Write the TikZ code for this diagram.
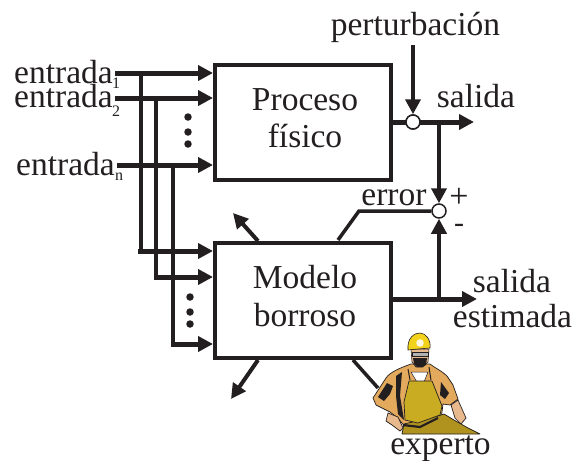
\documentclass[tikz,border=0pt]{standalone}
\usepackage{fontspec}
\setmainfont{Liberation Serif}
\usetikzlibrary{arrows.meta}
\definecolor{ink}{HTML}{231F20}
\definecolor{helmet}{HTML}{F2D21B}
\definecolor{shirt}{HTML}{E3A95C}
\definecolor{overall}{HTML}{C9AC22}
\definecolor{overalldark}{HTML}{B0921E}
\definecolor{skin}{HTML}{E8B98C}
\tikzset{
  x=1pt, y=-1pt,
  txt/.style={font=\fontsize{33.5}{35}\selectfont, text=ink, inner sep=0pt, anchor=base},
  sub/.style={font=\fontsize{16}{17}\selectfont, text=ink, inner sep=0pt, anchor=base west},
  block/.style={draw=ink, line width=4pt, fill=white, minimum width=176pt, minimum height=115pt, inner sep=0pt},
  junction/.style={circle, draw=ink, line width=1.5pt, fill=white, minimum size=14pt, inner sep=0pt},
  heavy/.style={draw=ink, line width=5pt, -{Triangle[length=15pt,width=15pt]}},
  bus/.style={draw=ink, line width=3.8pt},
  thin arrow/.style={draw=ink, line width=4pt, -{Triangle[length=15pt,width=15pt]}},
  dotmark/.style={circle, fill=ink, minimum size=7.5pt, inner sep=0pt}
}
\begin{document}
\begin{tikzpicture}
\useasboundingbox (0,0) rectangle (574,461);

% blocks
\node[block] (proc) at (303,122) {};
\node[block] (fuzzy) at (303,300) {};
\node[txt] (proctxt) at (305,110) {Proceso};
\node[txt] (proctxb) at (305,147) {físico};
\node[txt] (fuztxt) at (305,288) {Modelo};
\node[txt] (fuztxb) at (305,326) {borroso};

% junctions
\node[junction] (mix) at (413,122) {};
\node[junction] (sum) at (439,211) {};

% input labels and lines
\node[txt] (in1) at (63.5,83) {entrada};
\node[sub] (in1s) at (112,88) {1};
\node[txt] (in2) at (63.5,107) {entrada};
\node[sub] (in2s) at (112,116) {2};
\node[txt] (inn) at (65.5,175) {entrada};
\node[sub] (inns) at (115,180) {n};

\coordinate (a1) at (115,73);
\coordinate (a2) at (115,98);
\coordinate (an) at (117,165);
\coordinate (p1) at (213,73);
\coordinate (p2) at (213,98);
\coordinate (pn) at (213,165);
\coordinate (t1) at (141,73);
\coordinate (t2) at (156,98);
\coordinate (tn) at (173,165);
\coordinate (b1) at (141,251);
\coordinate (b2) at (156,277);
\coordinate (bn) at (173,344);
\coordinate (m1) at (213,251);
\coordinate (m2) at (213,277);
\coordinate (mn) at (213,344);

\draw[bus] (t1) -- (b1);
\draw[bus] (t2) -- (b2);
\draw[bus] (tn) -- (bn);
\draw[heavy] (a1) -- (p1);
\draw[heavy] (a2) -- (p2);
\draw[heavy] (an) -- (pn);
\draw[heavy] (138,251) -- (m1);
\draw[heavy] (154,277) -- (m2);
\draw[heavy] (171,344) -- (mn);

% ellipsis dots
\node[dotmark] (d1) at (188,117) {};
\node[dotmark] (d2) at (188,132) {};
\node[dotmark] (d3) at (188,144) {};
\node[dotmark] (d4) at (190,297) {};
\node[dotmark] (d5) at (190,312) {};
\node[dotmark] (d6) at (190,324) {};

% plant output and disturbance
\node[txt] (pert) at (415.5,35) {perturbación};
\coordinate (pertin) at (413,45);
\draw[thin arrow] (pertin) -- (mix.north);
\coordinate (out) at (474,122);
\draw[heavy] (proc.east |- mix) -- (out);
\node[junction] at (mix) {};
\node[txt] (sal) at (476,107) {salida};

% error path
\coordinate (tap) at (439,122);
\draw[thin arrow] (tap) -- (sum.north);
\coordinate (bend) at (359,211);
\draw[draw=ink, line width=3.5pt, line join=miter] (sum.west) -- (bend) -- (338,240);
\node[txt] (err) at (394,205) {error};
\node[font=\fontsize{34}{35}\selectfont, text=ink, inner sep=0pt] (plus) at (459,198) {+};
\node[font=\fontsize{30}{31}\selectfont, text=ink, inner sep=0pt] (minus) at (459,228) {-};

% model output
\coordinate (est) at (477,299);
\coordinate (tap2) at (439,299);
\draw[heavy] (fuzzy.east |- est) -- (est);
\draw[thin arrow] (tap2) -- (sum.south);
\node[txt] (sal2) at (512,292) {salida};
\node[txt] (est2) at (512.5,327) {estimada};

% adjustment arrows
\coordinate (ul) at (233,213);
\coordinate (dl) at (231,399);
\draw[thin arrow] (258,241) -- (ul);
\draw[thin arrow] (258,360) -- (dl);

% expert
\coordinate (exp) at (378,388);
\draw[draw=ink, line width=3.5pt] (353,360) -- (exp);
\node[txt] (exptxt) at (440.5,454) {experto};

% worker figure: shirt with both arms
\fill[shirt, draw=ink, line width=0.7pt, line join=round]
  (411,364) .. controls (400,368) and (390,372) .. (386,378) -- (373,398) -- (376,405) -- (390,412) -- (398,418)
  -- (406,428) -- (440,428) -- (443,404) -- (450,405) -- (458,399) -- (453,385) -- (447,376)
  .. controls (442,371) and (435,368) .. (430,364) -- cycle;
% shirt shadows
\fill[ink] (378,397) -- (387,383) -- (393,386) -- (390,394) -- (384,401) -- cycle;
\fill[ink] (396,376) -- (402,372) -- (400,396) -- (404,420) -- (398,414) -- (396,396) -- cycle;
\fill[ink] (441,382) -- (449,393) -- (445,399) -- (440,395) -- cycle;
% hands
\fill[skin, draw=ink, line width=0.7pt] (388,413) -- (398,417) -- (403,428) -- (400,431) -- (392,425) -- (386,421) -- cycle;
\fill[skin, draw=ink, line width=0.7pt] (451,405) -- (458,400) -- (466,418) -- (461,424) -- (455,418) -- cycle;
% undershirt
\fill[white, draw=ink, line width=0.5pt] (411,372) -- (428,372) -- (424,382) -- (417,382) -- cycle;
% trouser leg and overalls
\fill[overalldark, draw=ink, line width=0.7pt, line join=round]
  (402,434) -- (404,424) -- (438,416) -- (444,414) -- (454,420) -- (468,428) -- (480,434) -- cycle;
\fill[overall, draw=ink, line width=0.7pt, line join=round]
  (409,381) -- (432,381) -- (442,406) -- (440,415) -- (418,423) -- (405,420) -- (404,402) -- cycle;
\draw[ink, line width=1pt] (410,380) -- (408,369) (431,380) -- (429,367);
\draw[ink, line width=2.2pt] (403,425) -- (420,427) -- (438,418);
% head
\fill[skin, draw=ink, line width=0.6pt] (411,349) -- (429,349) -- (428,362) -- (423,367) -- (416,367) -- (412,362) -- cycle;
\fill[ink] (413,358) -- (427,358) -- (426,365) -- (422,367) -- (417,367) -- (414,364) -- cycle;
\fill[gray!60, draw=ink, line width=0.4pt] (412,352) rectangle (428,356);
% helmet
\fill[helmet, draw=ink, line width=0.6pt] (408,350) .. controls (407,338) and (414,333) .. (420,333)
  .. controls (426,333) and (431,340) .. (430,348) -- (418,349) -- cycle;
\fill[white!85!helmet] (420,343) circle (3.8pt);
\end{tikzpicture}
\end{document}
